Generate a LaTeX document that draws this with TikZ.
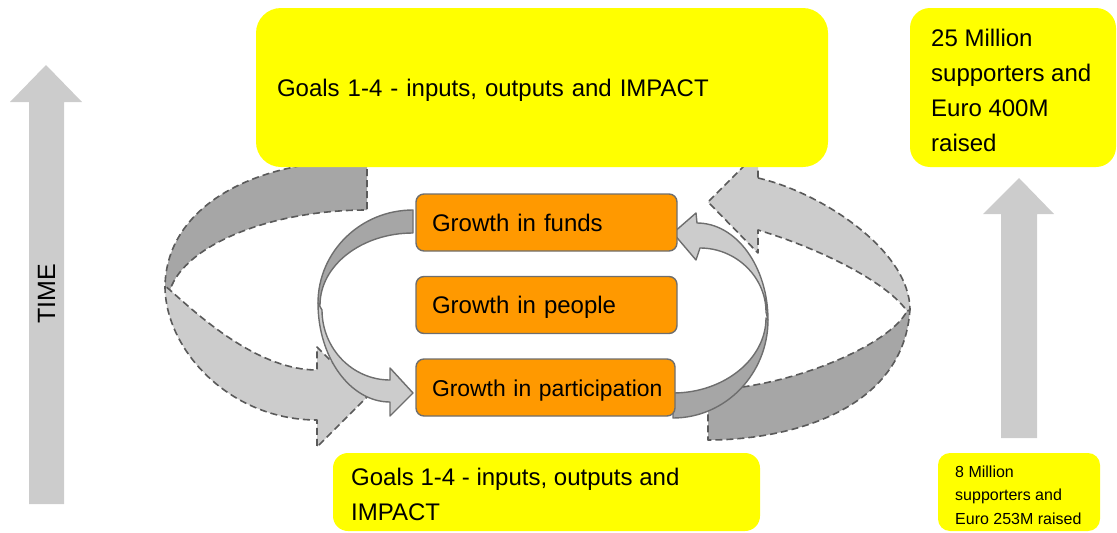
\documentclass[tikz,border=0pt]{standalone}
\usepackage{fontspec}
\setmainfont{Liberation Sans}
\definecolor{Yel}{HTML}{FFFF00}
\definecolor{Org}{HTML}{FF9900}
\definecolor{DGray}{HTML}{A6A6A6}
\definecolor{LGray}{HTML}{CCCCCC}
\definecolor{EdgeC}{HTML}{6E6E6E}
\definecolor{DashC}{HTML}{5A5A5A}
\newcommand\fsBig{\fontsize{24}{35}\selectfont}
\newcommand\fsSmall{\fontsize{16}{23.5}\selectfont}
\begin{document}
\begin{tikzpicture}[x=1pt,y=-1pt,
  ybox/.style={fill=Yel, draw=none, rounded corners=#1},
  ybox/.default=20pt,
  obox/.style={fill=Org, draw=EdgeC, line width=1.4pt, rounded corners=8pt,
    minimum width=261pt, minimum height=57pt, inner xsep=16pt, inner ysep=0pt,
    text width=229pt, align=left, text height=17.2pt, text depth=0pt, font=\fsBig},
  txt/.style={inner sep=0pt, anchor=base west},
  bigedge/.style={draw=DashC, line width=1.6pt, dash pattern=on 7pt off 4pt, line join=round},
  inedge/.style={draw=EdgeC, line width=1.4pt, line join=round}]
\useasboundingbox (0,0) rectangle (1117,533);

% large dashed arrow, left
\filldraw[bigedge, fill=DGray] (367,160) .. controls (246,160) and (165,211) .. (165,288)
  -- (170,290) .. controls (185,245) and (270,210) .. (367,210) -- cycle;
\filldraw[bigedge, fill=LGray] (165,286) .. controls (165,350) and (230,420) .. (317,420)
  -- (317,447) -- (367,397) -- (317,347) -- (317,370)
  .. controls (260,370) and (203,320) .. (170,290) -- cycle;

% large dashed arrow, right
\filldraw[bigedge, fill=DGray] (910,308) .. controls (905,410) and (790,440) .. (708,440)
  -- (708,390) .. controls (790,388) and (890,345) .. (907,311) -- cycle;
\filldraw[bigedge, fill=LGray] (758,178) .. controls (820,192) and (910,250) .. (910,310)
  -- (907,311) .. controls (885,280) and (815,247) .. (758,230)
  -- (758,253) -- (708,202) -- (758,152) -- cycle;

% inner arrow, left
\filldraw[inedge, fill=DGray] (413,210) .. controls (360.6,210) and (318,251.7) .. (318,303)
  -- (320,305) .. controls (320,265.3) and (361.7,233) .. (413,233) -- cycle;
\filldraw[inedge, fill=LGray] (318,303) .. controls (318,357.6) and (350.3,402) .. (390,402)
  -- (390,416) -- (413,393) -- (390,368) -- (390,380)
  .. controls (352.5,380) and (322,348.6) .. (322,310) -- cycle;

% inner arrow, right
\filldraw[inedge, fill=DGray] (673,418) .. controls (725.4,418) and (768,374) .. (768,320)
  -- (766,318) .. controls (766,359) and (724,393) .. (673,393) -- cycle;
\filldraw[inedge, fill=LGray] (768,320) .. controls (768,266.5) and (736.2,223) .. (697,223)
  -- (696,213) -- (673,233) -- (696,260) -- (700,248)
  .. controls (736,248) and (766,277) .. (766,312) -- cycle;

% orange boxes
\node[obox] (funds) at (546.5,222.5) {\mbox{Growth in funds}};
\node[obox] (people) at (546.5,305) {\mbox{Growth in people}};
\node[obox, minimum width=259pt, text width=227pt, inner xsep=16pt, font=\fontsize{22.9}{28}\selectfont]
  (particip) at (545.5,387.5) {\mbox{Growth in participation}};

% yellow boxes
\node[ybox=25pt, minimum width=572pt, minimum height=159pt, inner xsep=21pt, inner ysep=0pt,
  text width=530pt, align=left, text height=17.2pt, text depth=0pt, font=\fsBig]
  (goalsTop) at (542,87.5) {\mbox{Goals 1-4 - inputs, outputs and IMPACT}};
\node[ybox=20pt, minimum width=206pt, minimum height=159pt] (targetBox) at (1013,87.5) {};
\node[txt, font=\fsBig] (targetText) at (931,46)
  {\begin{tabular}[t]{@{}l@{}}25 Million\\supporters and\\Euro 400M\\raised\end{tabular}};
\node[ybox=15pt, minimum width=427pt, minimum height=78pt] (goalsBottom) at (546.5,492) {};
\node[txt, font=\fsBig] (goalsBottomText) at (351,485)
  {\begin{tabular}[t]{@{}l@{}}Goals 1-4 - inputs, outputs and\\IMPACT\end{tabular}};
\node[ybox=12pt, minimum width=162pt, minimum height=78pt] (startBox) at (1019,492) {};
\node[txt, font=\fsSmall] (startText) at (955,477)
  {\begin{tabular}[t]{@{}l@{}}8 Million\\supporters and\\Euro 253M raised\end{tabular}};

% time arrows
\fill[LGray] (29,504) -- (29,102) -- (10,102) -- (46,65) -- (82,102) -- (64,102) -- (64,504) -- cycle;
\node[rotate=90, inner sep=0pt, font=\fontsize{25}{30}\selectfont] (time) at (46.5,294) {TIME};
\fill[LGray] (1001,438) -- (1001,214) -- (983,214) -- (1019,178) -- (1054,214) -- (1037,214) -- (1037,438) -- cycle;
\end{tikzpicture}
\end{document}
